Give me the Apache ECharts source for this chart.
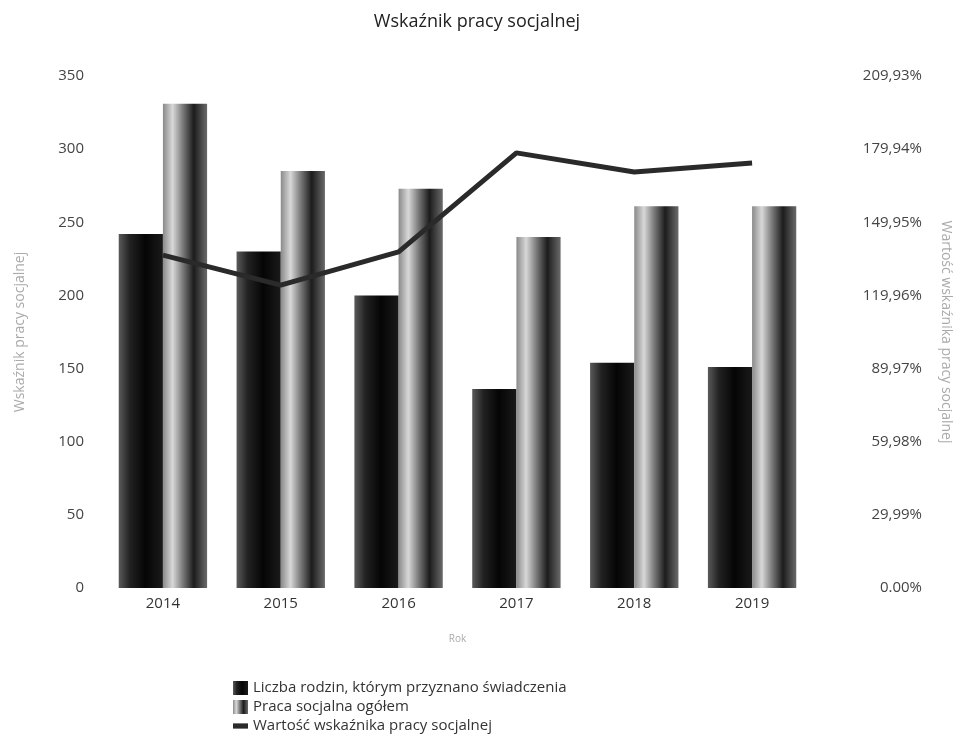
<!DOCTYPE html>
<html>
<head>
<meta charset="utf-8">
<script src="https://cdn.jsdelivr.net/npm/echarts@6/dist/echarts.min.js"></script>
<style>
  html, body { margin: 0; padding: 0; background: #fff; }
  #chart { width: 954px; height: 739px; }
</style>
</head>
<body>
<div id="chart"></div>
<script>
// dane
const years = ["2014", "2015", "2016", "2017", "2018", "2019"];
const rodziny = [242, 230, 200, 136, 154, 151];
const pracaOgolem = [331, 285, 273, 240, 261, 261];
const wskaznik = [136.5, 124.2, 137.8, 178.4, 170.6, 174.3];

const font = "Open Sans";

const darkBar = new echarts.graphic.LinearGradient(0, 0, 1, 0, [
  { offset: 0, color: "#5a5a5a" },
  { offset: 0.25, color: "#222" },
  { offset: 0.6, color: "#050505" },
  { offset: 1, color: "#1a1a1a" }
]);
const lightBar = new echarts.graphic.LinearGradient(0, 0, 1, 0, [
  { offset: 0, color: "#8a8a8a" },
  { offset: 0.22, color: "#d8d8d8" },
  { offset: 0.45, color: "#7a7a7a" },
  { offset: 0.7, color: "#1c1c1c" },
  { offset: 1, color: "#6a6a6a" }
]);

const chart = echarts.init(document.getElementById("chart"));
chart.setOption({
  backgroundColor: "#fff",
  animation: false,
  textStyle: { fontFamily: font },
  title: {
    text: "Wskaźnik pracy socjalnej",
    left: "center",
    top: 8,
    textStyle: { fontFamily: font, fontSize: 18, fontWeight: "normal", color: "#222" }
  },
  grid: { left: 104, right: 143, top: 76, bottom: 151, outerBoundsMode: "none" },
  legend: {
    orient: "vertical",
    left: 233,
    top: 679,
    padding: 0,
    itemGap: 1,
    itemWidth: 15,
    itemHeight: 14,
    textStyle: { fontFamily: font, fontSize: 15, color: "#333", lineHeight: 18 },
    data: [
      { name: "Liczba rodzin, którym przyznano świadczenia", icon: "rect" },
      { name: "Praca socjalna ogółem", icon: "rect" },
      { name: "Wartość wskaźnika pracy socjalnej", icon: "path://M0,3 L20,3 L20,10 L0,10 Z" }
    ]
  },
  xAxis: {
    type: "category",
    data: years,
    name: "Rok",
    nameLocation: "middle",
    nameGap: 46,
    nameTextStyle: { color: "#aaa", fontSize: 10 },
    axisLine: { show: false },
    axisTick: { show: false },
    axisLabel: { color: "#333", fontSize: 15, margin: 8 }
  },
  yAxis: [
    {
      type: "value",
      min: 0,
      max: 350,
      interval: 50,
      name: "Wskaźnik pracy socjalnej",
      nameLocation: "middle",
      nameGap: 77,
      nameTextStyle: { color: "#aaa", fontSize: 14 },
      axisLine: { show: false },
      axisTick: { show: false },
      splitLine: { show: false },
      axisLabel: { color: "#444", fontSize: 15, margin: 20 }
    },
    {
      type: "value",
      min: 0,
      max: 209.93,
      interval: 29.99,
      name: "Wartość wskaźnika pracy socjalnej",
      nameLocation: "middle",
      nameGap: 128,
      nameRotate: -90,
      nameTextStyle: { color: "#aaa", fontSize: 14 },
      axisLine: { show: false },
      axisTick: { show: false },
      splitLine: { show: false },
      axisLabel: {
        color: "#444",
        fontSize: 15,
        align: "right",
        margin: 111,
        formatter: v => v === 0 ? "0.00%" : v.toFixed(2).replace(".", ",") + "%"
      }
    }
  ],
  series: [
    {
      name: "Liczba rodzin, którym przyznano świadczenia",
      type: "bar",
      barGap: "0%",
      barCategoryGap: "25%",
      itemStyle: { color: darkBar },
      data: rodziny
    },
    {
      name: "Praca socjalna ogółem",
      type: "bar",
      barGap: "0%",
      barCategoryGap: "25%",
      itemStyle: { color: lightBar },
      data: pracaOgolem
    },
    {
      name: "Wartość wskaźnika pracy socjalnej",
      type: "line",
      yAxisIndex: 1,
      symbol: "none",
      lineStyle: { color: "#2a2a2a", width: 5 },
      itemStyle: { color: "#2a2a2a" },
      data: wskaznik
    }
  ]
});
</script>
</body>
</html>
